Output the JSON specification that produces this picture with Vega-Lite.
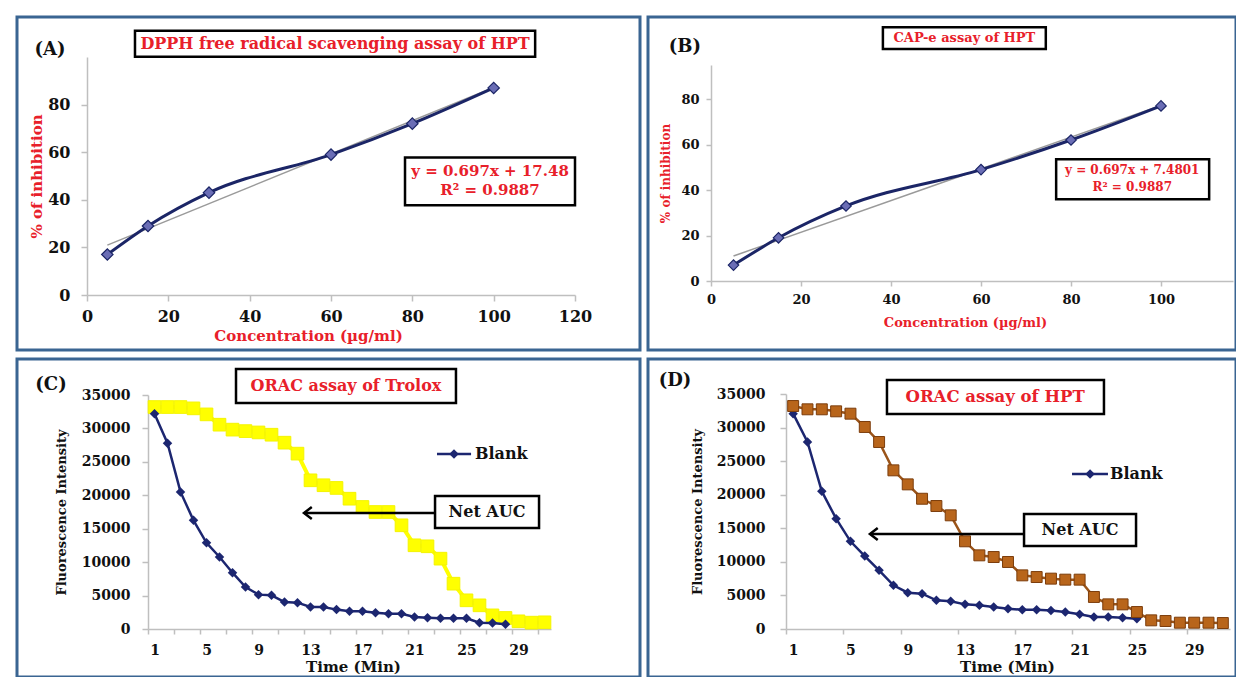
{
  "$schema": "https://vega.github.io/schema/vega-lite/v6.json",
  "padding": {"left": 15, "top": 15, "right": 0, "bottom": 0},
  "background": "white",
  "columns": 2,
  "spacing": {"row": 9, "column": 8},
  "bounds": "flush",
  "datasets": {
    "one": [{}],
    "dpph": [{"c": 5, "v": 17}, {"c": 15, "v": 29}, {"c": 30, "v": 43}, {"c": 60, "v": 59}, {"c": 80, "v": 72}, {"c": 100, "v": 87}],
    "dpphTrend": [{"c": 5, "v": 20.97}, {"c": 100, "v": 87.18}],
    "cape": [{"c": 5, "v": 7}, {"c": 15, "v": 19}, {"c": 30, "v": 33}, {"c": 60, "v": 49}, {"c": 80, "v": 62}, {"c": 100, "v": 77}],
    "capeTrend": [{"c": 5, "v": 10.97}, {"c": 100, "v": 77.18}],
    "blankC": [{"t":1,"v":32200},{"t":2,"v":27800},{"t":3,"v":20500},{"t":4,"v":16250},{"t":5,"v":12900},{"t":6,"v":10770},{"t":7,"v":8420},{"t":8,"v":6280},{"t":9,"v":5140},{"t":10,"v":5040},{"t":11,"v":4040},{"t":12,"v":3940},{"t":13,"v":3290},{"t":14,"v":3290},{"t":15,"v":2900},{"t":16,"v":2640},{"t":17,"v":2640},{"t":18,"v":2440},{"t":19,"v":2290},{"t":20,"v":2290},{"t":21,"v":1800},{"t":22,"v":1700},{"t":23,"v":1600},{"t":24,"v":1600},{"t":25,"v":1600},{"t":26,"v":950},{"t":27,"v":900},{"t":28,"v":700}],
    "trolox": [{"t":1,"v":33200},{"t":2,"v":33200},{"t":3,"v":33200},{"t":4,"v":33000},{"t":5,"v":32100},{"t":6,"v":30560},{"t":7,"v":29820},{"t":8,"v":29600},{"t":9,"v":29400},{"t":10,"v":29060},{"t":11,"v":27870},{"t":12,"v":26230},{"t":13,"v":22240},{"t":14,"v":21500},{"t":15,"v":21100},{"t":16,"v":19490},{"t":17,"v":18250},{"t":18,"v":17500},{"t":19,"v":17500},{"t":20,"v":15510},{"t":21,"v":12520},{"t":22,"v":12370},{"t":23,"v":10520},{"t":24,"v":6780},{"t":25,"v":4290},{"t":26,"v":3540},{"t":27,"v":2040},{"t":28,"v":1650},{"t":29,"v":1150},{"t":30,"v":950},{"t":31,"v":1000}],
    "blankD": [{"t":1,"v":32070},{"t":2,"v":27850},{"t":3,"v":20500},{"t":4,"v":16430},{"t":5,"v":13060},{"t":6,"v":10870},{"t":7,"v":8740},{"t":8,"v":6500},{"t":9,"v":5410},{"t":10,"v":5260},{"t":11,"v":4270},{"t":12,"v":4120},{"t":13,"v":3670},{"t":14,"v":3520},{"t":15,"v":3270},{"t":16,"v":3030},{"t":17,"v":2870},{"t":18,"v":2870},{"t":19,"v":2770},{"t":20,"v":2530},{"t":21,"v":2190},{"t":22,"v":1790},{"t":23,"v":1790},{"t":24,"v":1690},{"t":25,"v":1540}],
    "hpt": [{"t":1,"v":33210},{"t":2,"v":32720},{"t":3,"v":32720},{"t":4,"v":32420},{"t":5,"v":32070},{"t":6,"v":30090},{"t":7,"v":27850},{"t":8,"v":23630},{"t":9,"v":21540},{"t":10,"v":19400},{"t":11,"v":18320},{"t":12,"v":16930},{"t":13,"v":13060},{"t":14,"v":10970},{"t":15,"v":10720},{"t":16,"v":9980},{"t":17,"v":7990},{"t":18,"v":7740},{"t":19,"v":7500},{"t":20,"v":7350},{"t":21,"v":7350},{"t":22,"v":4770},{"t":23,"v":3670},{"t":24,"v":3670},{"t":25,"v":2530},{"t":26,"v":1290},{"t":27,"v":1190},{"t":28,"v":940},{"t":29,"v":940},{"t":30,"v":940},{"t":31,"v":890}]
  },
  "concat": [
    {
      "width": 623, "height": 333,
      "layer": [
        {
          "data": {"name": "dpphTrend"},
          "mark": {"type": "line", "color": "#9a9a9a", "strokeWidth": 1.5},
          "encoding": {
            "x": {"field": "c", "type": "quantitative",
              "scale": {"domain": [0, 120], "range": [70, 558], "nice": false, "zero": false},
              "axis": {"orient": "bottom", "offset": -55, "values": [0, 20, 40, 60, 80, 100, 120],
                "title": "Concentration  (µg/ml)", "titleColor": "#e8202a", "titleFontSize": 15,
                "titleX": 291, "titleY": 40, "titleBaseline": "middle",
                "labelFontSize": 16, "tickSize": 6, "labelPadding": 7}},
            "y": {"field": "v", "type": "quantitative",
              "scale": {"domain": [0, 100], "range": [278, 40], "nice": false, "zero": false},
              "axis": {"orient": "left", "offset": -70, "values": [0, 20, 40, 60, 80],
                "title": "% of inhibition", "titleColor": "#e8202a", "titleFontSize": 15,
                "titleX": -51, "titleBaseline": "middle",
                "labelFontSize": 16, "tickSize": 6, "labelPadding": 11}}
          }
        },
        {
          "data": {"name": "dpph"},
          "mark": {"type": "line", "interpolate": "monotone", "color": "#1b2566", "strokeWidth": 3,
            "point": {"shape": "diamond", "size": 130, "filled": true, "fill": "#6a6db5", "stroke": "#1b2566", "strokeWidth": 1.2}},
          "encoding": {"x": {"field": "c", "type": "quantitative"}, "y": {"field": "v", "type": "quantitative"}}
        },
        {
          "data": {"name": "one"},
          "mark": {"type": "text", "text": "(A)", "fontSize": 18, "color": "#111"},
          "encoding": {"x": {"datum": -9.1, "type": "quantitative"}, "y": {"datum": 103, "type": "quantitative"}}
        },
        {
          "data": {"name": "one"},
          "mark": {"type": "rect", "fill": "white", "stroke": "#000", "strokeWidth": 2.5},
          "encoding": {"x": {"datum": 11.8, "type": "quantitative"}, "x2": {"datum": 110.2}, "y": {"datum": 100.1, "type": "quantitative"}, "y2": {"datum": 111}}
        },
        {
          "data": {"name": "one"},
          "mark": {"type": "text", "text": "DPPH free radical scavenging assay of HPT", "fontSize": 16, "color": "#e8202a"},
          "encoding": {"x": {"datum": 61, "type": "quantitative"}, "y": {"datum": 105.5, "type": "quantitative"}}
        },
        {
          "data": {"name": "one"},
          "mark": {"type": "rect", "fill": "white", "stroke": "#000", "strokeWidth": 2.5},
          "encoding": {"x": {"datum": 78.2, "type": "quantitative"}, "x2": {"datum": 120}, "y": {"datum": 37.7, "type": "quantitative"}, "y2": {"datum": 57.8}}
        },
        {
          "data": {"name": "one"},
          "mark": {"type": "text", "text": "y = 0.697x + 17.48", "fontSize": 15, "color": "#e8202a"},
          "encoding": {"x": {"datum": 99.1, "type": "quantitative"}, "y": {"datum": 52.2, "type": "quantitative"}}
        },
        {
          "data": {"name": "one"},
          "mark": {"type": "text", "text": "R² = 0.9887", "fontSize": 15, "color": "#e8202a"},
          "encoding": {"x": {"datum": 99.1, "type": "quantitative"}, "y": {"datum": 44.0, "type": "quantitative"}}
        }
      ]
    },
    {
      "width": 588, "height": 333,
      "layer": [
        {
          "data": {"name": "capeTrend"},
          "mark": {"type": "line", "color": "#9a9a9a", "strokeWidth": 1.5},
          "encoding": {
            "x": {"field": "c", "type": "quantitative",
              "scale": {"domain": [0, 116], "range": [63, 585], "nice": false, "zero": false},
              "axis": {"orient": "bottom", "offset": -69, "values": [0, 20, 40, 60, 80, 100],
                "title": "Concentration  (µg/ml)", "titleColor": "#e8202a", "titleFontSize": 13,
                "titleX": 317, "titleY": 41, "titleBaseline": "middle",
                "labelFontSize": 13, "tickSize": 5, "labelPadding": 7}},
            "y": {"field": "v", "type": "quantitative",
              "scale": {"domain": [0, 95], "range": [264, 48], "nice": false, "zero": false},
              "axis": {"orient": "left", "offset": -63, "values": [0, 20, 40, 60, 80],
                "title": "% of inhibition", "titleColor": "#e8202a", "titleFontSize": 12,
                "titleX": -46, "titleBaseline": "middle",
                "labelFontSize": 13, "tickSize": 5, "labelPadding": 7}}
          }
        },
        {
          "data": {"name": "cape"},
          "mark": {"type": "line", "interpolate": "monotone", "color": "#1b2566", "strokeWidth": 3,
            "point": {"shape": "diamond", "size": 110, "filled": true, "fill": "#6a6db5", "stroke": "#1b2566", "strokeWidth": 1.2}},
          "encoding": {"x": {"field": "c", "type": "quantitative"}, "y": {"field": "v", "type": "quantitative"}}
        },
        {
          "data": {"name": "one"},
          "mark": {"type": "text", "text": "(B)", "fontSize": 18, "color": "#111"},
          "encoding": {"x": {"datum": -5.8, "type": "quantitative"}, "y": {"datum": 102.9, "type": "quantitative"}}
        },
        {
          "data": {"name": "one"},
          "mark": {"type": "rect", "fill": "white", "stroke": "#000", "strokeWidth": 2.5},
          "encoding": {"x": {"datum": 38.2, "type": "quantitative"}, "x2": {"datum": 74.4}, "y": {"datum": 102, "type": "quantitative"}, "y2": {"datum": 111.6}}
        },
        {
          "data": {"name": "one"},
          "mark": {"type": "text", "text": "CAP-e assay of HPT", "fontSize": 13, "color": "#e8202a"},
          "encoding": {"x": {"datum": 56.3, "type": "quantitative"}, "y": {"datum": 106.8, "type": "quantitative"}}
        },
        {
          "data": {"name": "one"},
          "mark": {"type": "rect", "fill": "white", "stroke": "#000", "strokeWidth": 2.5},
          "encoding": {"x": {"datum": 76.7, "type": "quantitative"}, "x2": {"datum": 110.7}, "y": {"datum": 36, "type": "quantitative"}, "y2": {"datum": 53.6}}
        },
        {
          "data": {"name": "one"},
          "mark": {"type": "text", "text": "y = 0.697x + 7.4801", "fontSize": 12, "color": "#e8202a"},
          "encoding": {"x": {"datum": 93.6, "type": "quantitative"}, "y": {"datum": 48.8, "type": "quantitative"}}
        },
        {
          "data": {"name": "one"},
          "mark": {"type": "text", "text": "R² = 0.9887", "fontSize": 12, "color": "#e8202a"},
          "encoding": {"x": {"datum": 93.6, "type": "quantitative"}, "y": {"datum": 41.3, "type": "quantitative"}}
        }
      ]
    },
    {
      "width": 623, "height": 318,
      "layer": [
        {
          "data": {"name": "trolox"},
          "mark": {"type": "line", "color": "#ffff00", "strokeWidth": 4,
            "point": {"shape": "square", "size": 160, "filled": true, "fill": "#ffff00", "stroke": "#f4f400", "strokeWidth": 1}},
          "encoding": {
            "x": {"field": "t", "type": "quantitative",
              "scale": {"domain": [0.5, 31.5], "range": [131, 534], "nice": false, "zero": false},
              "axis": {"orient": "bottom", "offset": -48,
                "values": [0.5,1.5,2.5,3.5,4.5,5.5,6.5,7.5,8.5,9.5,10.5,11.5,12.5,13.5,14.5,15.5,16.5,17.5,18.5,19.5,20.5,21.5,22.5,23.5,24.5,25.5,26.5,27.5,28.5,29.5,30.5,31.5],
                "labelExpr": "datum.value < 29 && (datum.value - 0.5) % 4 == 0 ? format(datum.value + 0.5, 'd') : ''",
                "labelOffset": 6.5,
                "title": "Time (Min)", "titleColor": "#111", "titleFontSize": 15,
                "titleX": 336, "titleY": 37, "titleBaseline": "middle",
                "labelFontSize": 14, "tickSize": 5, "labelPadding": 9}},
            "y": {"field": "v", "type": "quantitative",
              "scale": {"domain": [0, 35000], "range": [270, 36], "nice": false, "zero": false},
              "axis": {"orient": "left", "offset": -131, "values": [0, 5000, 10000, 15000, 20000, 25000, 30000, 35000], "format": "d",
                "title": "Fluorescence Intensity", "titleColor": "#111", "titleFontSize": 13,
                "titleX": -87, "titleBaseline": "middle",
                "labelFontSize": 14, "tickSize": 6, "labelPadding": 12}}
          }
        },
        {
          "data": {"name": "blankC"},
          "mark": {"type": "line", "color": "#1c2670", "strokeWidth": 2.5,
            "point": {"shape": "diamond", "size": 90, "filled": true, "fill": "#1c2670"}},
          "encoding": {"x": {"field": "t", "type": "quantitative"}, "y": {"field": "v", "type": "quantitative"}}
        },
        {
          "data": {"name": "one"},
          "mark": {"type": "text", "text": "(C)", "fontSize": 18, "color": "#111"},
          "encoding": {"x": {"datum": -6.96, "type": "quantitative"}, "y": {"datum": 36500, "type": "quantitative"}}
        },
        {
          "data": {"name": "one"},
          "mark": {"type": "rect", "fill": "white", "stroke": "#000", "strokeWidth": 2.5},
          "encoding": {"x": {"datum": 7.27, "type": "quantitative"}, "x2": {"datum": 24.19}, "y": {"datum": 33800, "type": "quantitative"}, "y2": {"datum": 38890}}
        },
        {
          "data": {"name": "one"},
          "mark": {"type": "text", "text": "ORAC assay of Trolox", "fontSize": 16, "color": "#e8202a"},
          "encoding": {"x": {"datum": 15.73, "type": "quantitative"}, "y": {"datum": 36350, "type": "quantitative"}}
        },
        {
          "data": {"name": "one"},
          "mark": {"type": "rule", "color": "#1c2670", "strokeWidth": 2.5},
          "encoding": {"x": {"datum": 22.73, "type": "quantitative"}, "x2": {"datum": 25.35}, "y": {"datum": 26175, "type": "quantitative"}}
        },
        {
          "data": {"name": "one"},
          "mark": {"type": "point", "shape": "diamond", "size": 90, "filled": true, "color": "#1c2670", "opacity": 1},
          "encoding": {"x": {"datum": 24.04, "type": "quantitative"}, "y": {"datum": 26175, "type": "quantitative"}}
        },
        {
          "data": {"name": "one"},
          "mark": {"type": "text", "text": "Blank", "fontSize": 16, "color": "#111", "align": "left"},
          "encoding": {"x": {"datum": 25.65, "type": "quantitative"}, "y": {"datum": 26175, "type": "quantitative"}}
        },
        {
          "data": {"name": "one"},
          "mark": {"type": "rule", "color": "#000", "strokeWidth": 2.5},
          "encoding": {"x": {"datum": 12.5, "type": "quantitative"}, "x2": {"datum": 22.58}, "y": {"datum": 17350, "type": "quantitative"}}
        },
        {
          "data": {"name": "one"},
          "mark": {"type": "point", "shape": "M1.3,-1L0,0L1.3,1", "size": 144, "filled": false, "stroke": "#000", "strokeWidth": 2.5, "opacity": 1},
          "encoding": {"x": {"datum": 12.5, "type": "quantitative"}, "y": {"datum": 17350, "type": "quantitative"}}
        },
        {
          "data": {"name": "one"},
          "mark": {"type": "rect", "fill": "white", "stroke": "#000", "strokeWidth": 2.5},
          "encoding": {"x": {"datum": 22.58, "type": "quantitative"}, "x2": {"datum": 30.58}, "y": {"datum": 15110, "type": "quantitative"}, "y2": {"datum": 19890}}
        },
        {
          "data": {"name": "one"},
          "mark": {"type": "text", "text": "Net AUC", "fontSize": 16, "color": "#111"},
          "encoding": {"x": {"datum": 26.58, "type": "quantitative"}, "y": {"datum": 17500, "type": "quantitative"}}
        }
      ]
    },
    {
      "width": 588, "height": 318,
      "layer": [
        {
          "data": {"name": "blankD"},
          "mark": {"type": "line", "color": "#1c2670", "strokeWidth": 2.5,
            "point": {"shape": "diamond", "size": 90, "filled": true, "fill": "#1c2670"}},
          "encoding": {
            "x": {"field": "t", "type": "quantitative",
              "scale": {"domain": [0.5, 31.5], "range": [138, 582], "nice": false, "zero": false},
              "axis": {"orient": "bottom", "offset": -48,
                "values": [0.5,1.5,2.5,3.5,4.5,5.5,6.5,7.5,8.5,9.5,10.5,11.5,12.5,13.5,14.5,15.5,16.5,17.5,18.5,19.5,20.5,21.5,22.5,23.5,24.5,25.5,26.5,27.5,28.5,29.5,30.5,31.5],
                "labelExpr": "datum.value < 29 && (datum.value - 0.5) % 4 == 0 ? format(datum.value + 0.5, 'd') : ''",
                "labelOffset": 7.2,
                "title": "Time (Min)", "titleColor": "#111", "titleFontSize": 15,
                "titleX": 359, "titleY": 37, "titleBaseline": "middle",
                "labelFontSize": 14, "tickSize": 5, "labelPadding": 9}},
            "y": {"field": "v", "type": "quantitative",
              "scale": {"domain": [0, 35000], "range": [270, 35], "nice": false, "zero": false},
              "axis": {"orient": "left", "offset": -138, "values": [0, 5000, 10000, 15000, 20000, 25000, 30000, 35000], "format": "d",
                "title": "Fluorescence Intensity", "titleColor": "#111", "titleFontSize": 13,
                "titleX": -89, "titleBaseline": "middle",
                "labelFontSize": 14, "tickSize": 6, "labelPadding": 15}}
          }
        },
        {
          "data": {"name": "hpt"},
          "mark": {"type": "line", "color": "#9b5419", "strokeWidth": 2.5,
            "point": {"shape": "square", "size": 120, "filled": true, "fill": "#b8651b", "stroke": "#7c3d0c", "strokeWidth": 1}},
          "encoding": {"x": {"field": "t", "type": "quantitative"}, "y": {"field": "v", "type": "quantitative"}}
        },
        {
          "data": {"name": "one"},
          "mark": {"type": "text", "text": "(D)", "fontSize": 18, "color": "#111"},
          "encoding": {"x": {"datum": -7.25, "type": "quantitative"}, "y": {"datum": 36930, "type": "quantitative"}}
        },
        {
          "data": {"name": "one"},
          "mark": {"type": "rect", "fill": "white", "stroke": "#000", "strokeWidth": 2.5},
          "encoding": {"x": {"datum": 7.55, "type": "quantitative"}, "x2": {"datum": 22.7}, "y": {"datum": 32010, "type": "quantitative"}, "y2": {"datum": 37080}}
        },
        {
          "data": {"name": "one"},
          "mark": {"type": "text", "text": "ORAC assay of HPT", "fontSize": 16.5, "color": "#e8202a"},
          "encoding": {"x": {"datum": 15.1, "type": "quantitative"}, "y": {"datum": 34545, "type": "quantitative"}}
        },
        {
          "data": {"name": "one"},
          "mark": {"type": "rule", "color": "#1c2670", "strokeWidth": 2.5},
          "encoding": {"x": {"datum": 20.47, "type": "quantitative"}, "x2": {"datum": 22.98}, "y": {"datum": 23080, "type": "quantitative"}}
        },
        {
          "data": {"name": "one"},
          "mark": {"type": "point", "shape": "diamond", "size": 90, "filled": true, "color": "#1c2670", "opacity": 1},
          "encoding": {"x": {"datum": 21.73, "type": "quantitative"}, "y": {"datum": 23080, "type": "quantitative"}}
        },
        {
          "data": {"name": "one"},
          "mark": {"type": "text", "text": "Blank", "fontSize": 16, "color": "#111", "align": "left"},
          "encoding": {"x": {"datum": 23.12, "type": "quantitative"}, "y": {"datum": 23080, "type": "quantitative"}}
        },
        {
          "data": {"name": "one"},
          "mark": {"type": "rule", "color": "#000", "strokeWidth": 2.5},
          "encoding": {"x": {"datum": 6.36, "type": "quantitative"}, "x2": {"datum": 17.12}, "y": {"datum": 14150, "type": "quantitative"}}
        },
        {
          "data": {"name": "one"},
          "mark": {"type": "point", "shape": "M1.3,-1L0,0L1.3,1", "size": 144, "filled": false, "stroke": "#000", "strokeWidth": 2.5, "opacity": 1},
          "encoding": {"x": {"datum": 6.36, "type": "quantitative"}, "y": {"datum": 14150, "type": "quantitative"}}
        },
        {
          "data": {"name": "one"},
          "mark": {"type": "rect", "fill": "white", "stroke": "#000", "strokeWidth": 2.5},
          "encoding": {"x": {"datum": 17.12, "type": "quantitative"}, "x2": {"datum": 24.94}, "y": {"datum": 12360, "type": "quantitative"}, "y2": {"datum": 17120}}
        },
        {
          "data": {"name": "one"},
          "mark": {"type": "text", "text": "Net AUC", "fontSize": 16, "color": "#111"},
          "encoding": {"x": {"datum": 21.03, "type": "quantitative"}, "y": {"datum": 14740, "type": "quantitative"}}
        }
      ]
    }
  ],
  "config": {
    "view": {"stroke": "#3a6592", "strokeWidth": 3},
    "font": "DejaVu Serif",
    "text": {"font": "DejaVu Serif", "fontWeight": "bold", "baseline": "middle"},
    "axis": {
      "grid": false, "domainColor": "#bfbfbf", "domainWidth": 1.5, "tickColor": "#bfbfbf", "tickWidth": 1.5,
      "labelFont": "DejaVu Serif", "labelFontWeight": "bold", "labelColor": "#111",
      "titleFont": "DejaVu Serif", "titleFontWeight": "bold",
      "labelFlush": false, "labelOverlap": false
    }
  }
}
